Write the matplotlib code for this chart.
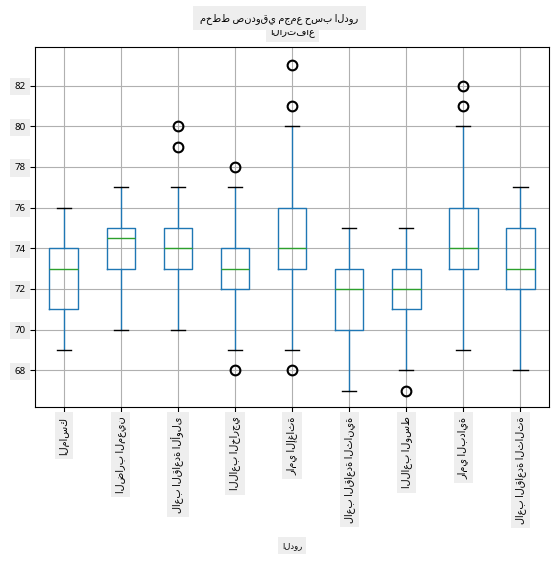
import matplotlib
matplotlib.use("Agg")
import matplotlib.pyplot as plt

plt.rcParams['font.family'] = ['Noto Sans', 'DejaVu Sans']

roles = ["الماسك", "الضارب المعين", "لاعب القاعدة الأولى", "اللاعب الخارجي", "رامي الإغاثة",
         "لاعب القاعدة الثانية", "اللاعب الوسط", "رامي البداية", "لاعب القاعدة الثالثة"]
whislo = [69, 70, 70, 69, 69, 67, 68, 69, 68]
q1 = [71, 73, 73, 72, 73, 70, 71, 73, 72]
med = [73, 74.5, 74, 73, 74, 72, 72, 74, 73]
q3 = [74, 75, 75, 74, 76, 73, 73, 76, 75]
whishi = [76, 77, 77, 77, 80, 75, 75, 80, 77]
fliers = [[], [], [79, 80], [78, 68], [81, 83, 68], [], [67], [81, 82], []]
yticks = [68, 70, 72, 74, 76, 78, 80, 82]

stats = [dict(whislo=a, q1=b, med=c, q3=d, whishi=e, fliers=f)
         for a, b, c, d, e, f in zip(whislo, q1, med, q3, whishi, fliers)]

fig = plt.figure(figsize=(5.59, 5.73), dpi=100)
ax = fig.add_axes([0.063, 0.29, 0.919, 0.628])
ax.bxp(stats, showfliers=True,
       boxprops=dict(color='#1f77b4'), whiskerprops=dict(color='#1f77b4'),
       capprops=dict(color='black'), medianprops=dict(color='#2ca02c'),
       flierprops=dict(marker='o', markerfacecolor='none', markeredgecolor='black', markersize=7, markeredgewidth=1.5))
ax.set_ylim(66.2, 83.9)
ax.set_yticks(yticks)
ax.grid(True, color='#b0b0b0')
ax.set_axisbelow(True)
bbox = dict(facecolor='#eeeeee', edgecolor='none', pad=3)
ax.set_yticklabels([str(t) for t in yticks], fontsize=7, bbox=bbox)
ax.set_xticks(range(1, len(roles) + 1))
ax.set_xticklabels(roles, rotation=90, fontsize=7, bbox=bbox)
ax.set_xlabel("الدور", fontsize=6, bbox=bbox, labelpad=12)
ax.set_title("الارتفاع", fontsize=7, bbox=bbox, pad=9)
fig.suptitle("مخطط صندوقي مجمع حسب الدور", fontsize=7, y=0.978,
             bbox=dict(facecolor='#eeeeee', edgecolor='none', pad=5))
fig.savefig("out.png", dpi=100)
